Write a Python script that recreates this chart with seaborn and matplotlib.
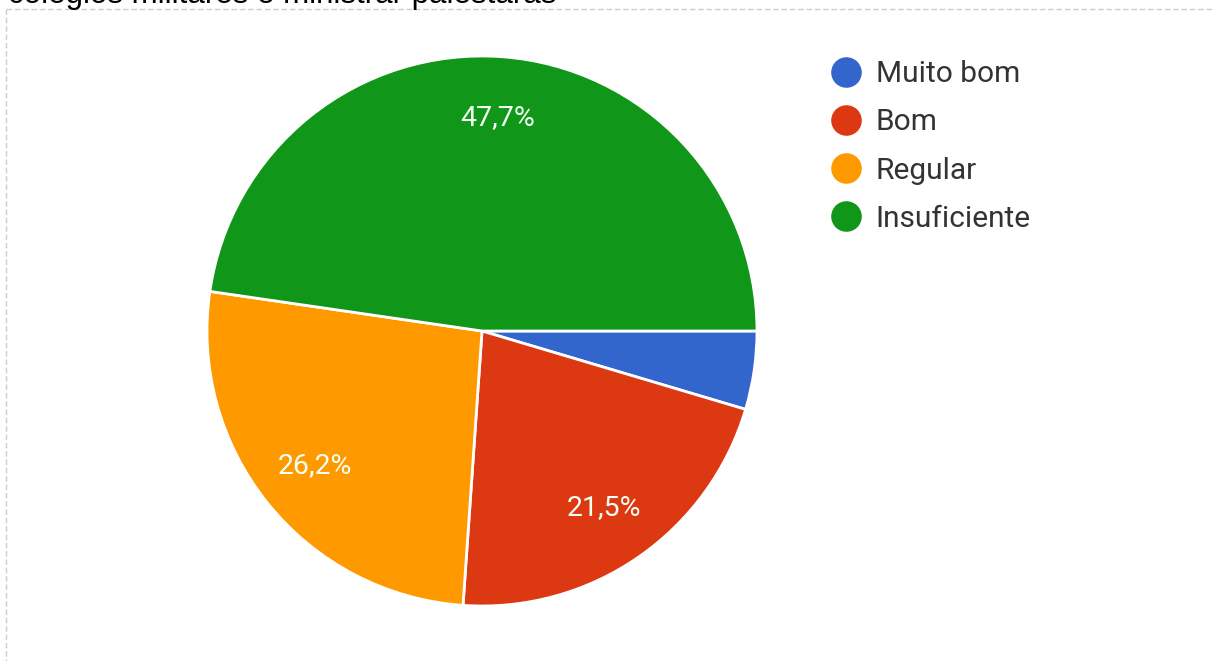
import matplotlib
matplotlib.use("Agg")
import matplotlib.pyplot as plt
from matplotlib.lines import Line2D
import seaborn as sns

sns.set_theme(style="white")
plt.rcParams["font.family"] = ["Roboto", "DejaVu Sans"]

# Survey answers (percent of respondents)
categories = ["Muito bom", "Bom", "Regular", "Insuficiente"]
shares = [4.6, 21.5, 26.2, 47.7]
colors = ["#3366cc", "#dc3912", "#ff9900", "#109618"]
title_text = "colégios militares e ministrar palestaras"

W, H = 1214, 661
fig = plt.figure(figsize=(W / 100, H / 100), dpi=100)
fig.patch.set_facecolor("white")

# Pie area: 550 px square
ax = fig.add_axes([207 / W, (H - 606) / H, 550 / W, 550 / H])


def pct_label(p):
    return "" if p < 5 else f"{p:.1f}%".replace(".", ",")


wedges, _, autotexts = ax.pie(
    shares,
    colors=colors,
    startangle=0,
    counterclock=False,
    autopct=pct_label,
    pctdistance=0.78,
    wedgeprops=dict(edgecolor="white", linewidth=2),
    radius=1.0,
)
for t in autotexts:
    t.set_color("#f4fff4")
    t.set_fontsize(20.5)
ax.set_xlim(-1.0, 1.0)
ax.set_ylim(-1.0, 1.0)
ax.set_aspect("equal")
ax.axis("off")

# Legend with round markers
handles = [
    Line2D([0], [0], marker="o", linestyle="", markersize=21,
           markerfacecolor=c, markeredgecolor=c)
    for c in colors
]
fig.legend(
    handles, categories,
    loc="upper left",
    bbox_to_anchor=(831 / W, 1 - 60 / H),
    frameon=False,
    fontsize=21.5,
    handletextpad=0.5,
    labelspacing=0.68,
    handlelength=1.0,
    borderaxespad=0,
    borderpad=0,
    labelcolor="#333333",
)

# Clipped heading line at the very top
fig.text(8 / W, 1 - 3 / H, title_text, ha="left", va="baseline",
         fontsize=22.5, color="black", family=["Liberation Sans", "DejaVu Sans"])

# Dashed frame around the chart card
frame_kw = dict(color="#cccccc", linewidth=1, linestyle=(0, (4, 2)),
                transform=fig.transFigure)
fig.add_artist(Line2D([6 / W, 1], [1 - 9 / H, 1 - 9 / H], **frame_kw))
fig.add_artist(Line2D([6 / W, 6 / W], [1 - 9 / H, 0], **frame_kw))

fig.savefig("out.png", dpi=100, facecolor="white")
